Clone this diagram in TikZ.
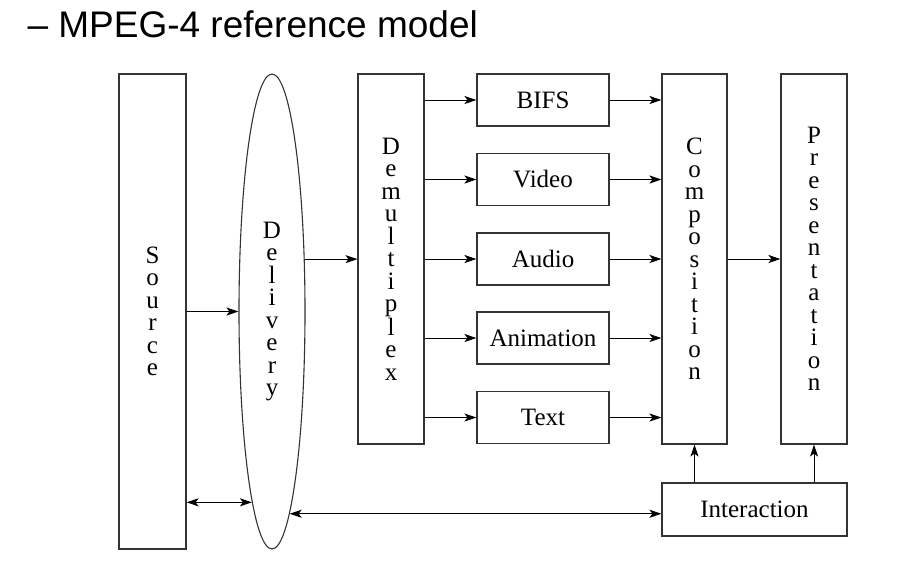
\documentclass[tikz,border=0pt]{standalone}
\usepackage{fontspec}
\setmainfont{Liberation Serif}
\newfontfamily\titlefont{Liberation Sans}
\usetikzlibrary{shapes.geometric,arrows.meta}
\begin{document}
\begin{tikzpicture}[x=1pt,y=-1pt,
  box/.style={draw=black!80,line width=1.1pt,rectangle,inner sep=0pt,align=center,
    font=\fontsize{25}{22.5}\selectfont},
  tall/.style={box,minimum width=66pt,minimum height=370pt},
  small/.style={box,minimum width=132pt,minimum height=52pt},
  arr/.style={line width=1pt,-{Stealth[length=12pt,width=8pt,inset=3pt]}},
  darr/.style={line width=1pt,{Stealth[length=12pt,width=8pt,inset=3pt]}-{Stealth[length=12pt,width=8pt,inset=3pt]}}]
\useasboundingbox (0,0) rectangle (924,563);
\node[anchor=base west,font=\titlefont\fontsize{37}{42}\selectfont] (title) at (24,37) {– MPEG-4 reference model};
\node[box,minimum width=67pt,minimum height=475pt] (src) at (152.5,311.5) {S\\o\\u\\r\\c\\e};
\node[box,ellipse,minimum width=66pt,minimum height=475pt] (del) at (272,311.5) {D\\e\\l\\i\\v\\e\\r\\y};
\node[tall] (dmx) at (391,259) {D\\e\\m\\u\\l\\t\\i\\p\\l\\e\\x};
\node[small] (bifs) at (543,100) {BIFS};
\node[small] (vid) at (543,179.5) {Video};
\node[small] (aud) at (543,259) {Audio};
\node[small] (ani) at (543,338) {Animation};
\node[small] (txt) at (543,417.5) {Text};
\node[tall,minimum width=65pt] (cmp) at (694.5,259) {C\\o\\m\\p\\o\\s\\i\\t\\i\\o\\n};
\node[tall] (prs) at (814,259) {P\\r\\e\\s\\e\\n\\t\\a\\t\\i\\o\\n};
\node[box,minimum width=185pt,minimum height=53pt] (int) at (754.5,509.5) {Interaction};
% connectors
\draw[arr] (src.east |- del.west) -- (del.west);
\draw[arr] (del.58.5) -- (dmx.west |- del.58.5);
\foreach \b in {bifs,vid,aud,ani,txt}{
  \draw[arr] (dmx.east |- \b.west) -- (\b.west);
  \draw[arr] (\b.east) -- (cmp.west |- \b.east);
}
\draw[arr] (cmp.east) -- (prs.west);
\draw[arr] (int.north -| cmp.south) -- (cmp.south);
\draw[arr] (int.north -| prs.south) -- (prs.south);
\draw[darr] (src.east |- del.264.8) -- (del.264.8);
\draw[darr] (del.275.2) -- (int.west |- del.275.2);
\end{tikzpicture}
\end{document}
